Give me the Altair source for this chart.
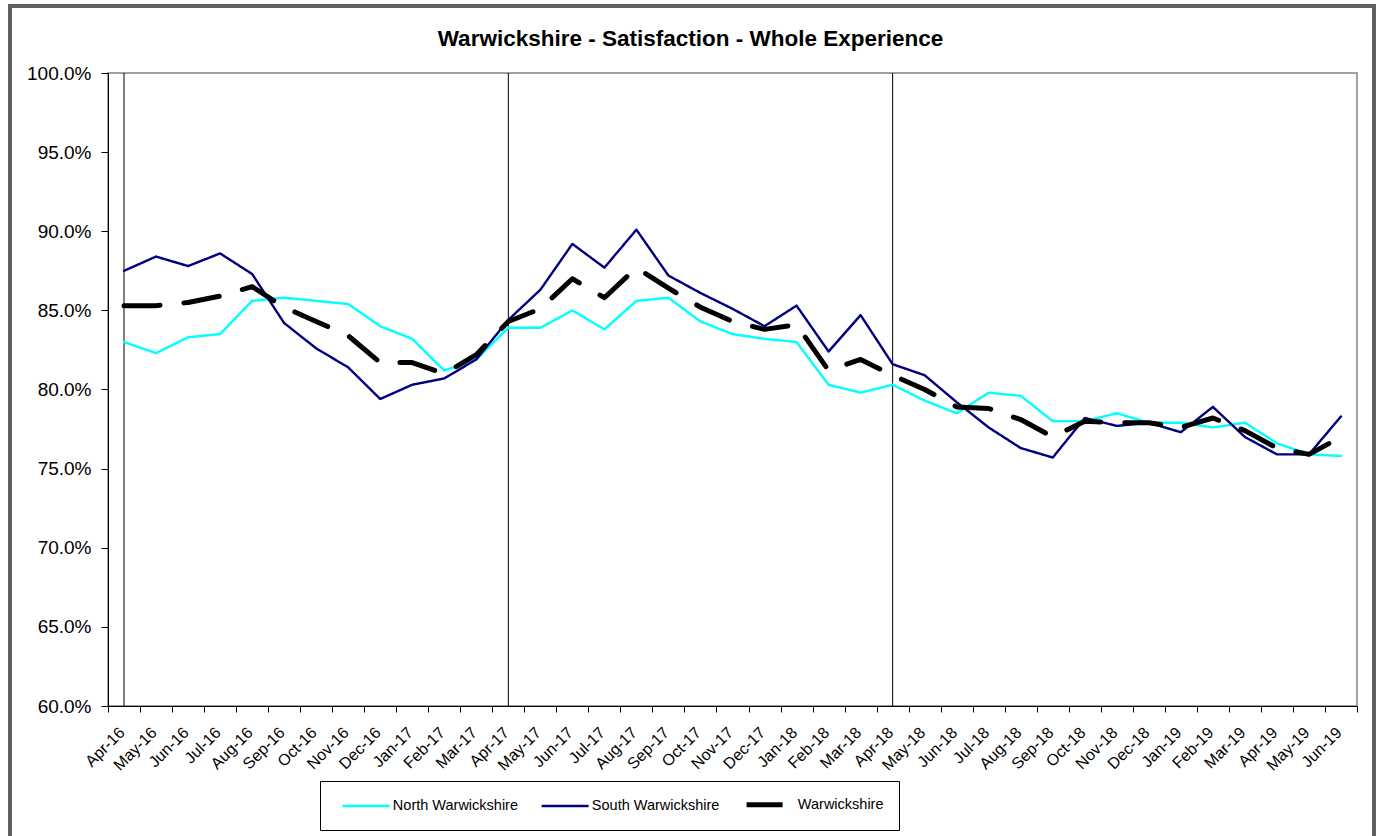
import altair as alt
import pandas as pd

# Monthly satisfaction with the whole experience (%), Apr-16 to Jun-19
months = [
    "Apr-16", "May-16", "Jun-16", "Jul-16", "Aug-16", "Sep-16", "Oct-16", "Nov-16",
    "Dec-16", "Jan-17", "Feb-17", "Mar-17", "Apr-17", "May-17", "Jun-17", "Jul-17",
    "Aug-17", "Sep-17", "Oct-17", "Nov-17", "Dec-17", "Jan-18", "Feb-18", "Mar-18",
    "Apr-18", "May-18", "Jun-18", "Jul-18", "Aug-18", "Sep-18", "Oct-18", "Nov-18",
    "Dec-18", "Jan-19", "Feb-19", "Mar-19", "Apr-19", "May-19", "Jun-19",
]

north = [
    83.0, 82.3, 83.3, 83.5, 85.6, 85.8, 85.6, 85.4, 84.0, 83.2, 81.2, 81.9, 83.9,
    83.9, 85.0, 83.8, 85.6, 85.8, 84.3, 83.5, 83.2, 83.0, 80.3, 79.8, 80.3,
    79.3, 78.5, 79.8, 79.6, 78.0, 78.0, 78.5, 77.9, 77.9, 77.6, 77.9, 76.6, 75.9, 75.8,
]

south = [
    87.5, 88.4, 87.8, 88.6, 87.3, 84.2, 82.6, 81.4, 79.4, 80.3, 80.7, 81.9, 84.4,
    86.3, 89.2, 87.7, 90.1, 87.2, 86.1, 85.1, 84.0, 85.3, 82.4, 84.7, 81.6,
    80.9, 79.2, 77.6, 76.3, 75.7, 78.2, 77.7, 77.9, 77.3, 78.9, 77.0, 75.9, 75.9, 78.3,
]

county = [
    85.3, 85.3, 85.5, 85.9, 86.5, 85.2, 84.3, 83.4, 81.7, 81.7, 81.0, 82.2, 84.3,
    85.1, 87.0, 85.8, 87.7, 86.4, 85.2, 84.3, 83.8, 84.1, 81.2, 81.9, 80.9,
    80.0, 78.9, 78.8, 78.1, 77.0, 78.0, 77.9, 77.9, 77.6, 78.2, 77.4, 76.3, 75.9, 77.0,
]

series_names = ["North Warwickshire", "South Warwickshire", "Warwickshire"]
series_colors = ["#00FFFF", "#000080", "#000000"]
series_widths = [2.4, 2.4, 5]
series_dashes = [[1, 0], [1, 0], [36, 24]]

# first month of each financial year gets a marker line
year_starts = ["Apr-16", "Apr-17", "Apr-18"]

y_ticks = [0.60, 0.65, 0.70, 0.75, 0.80, 0.85, 0.90, 0.95, 1.00]

W, H = 1249, 633
FONT = "Liberation Sans"

rows = []
for name, vals in zip(series_names, [north, south, county]):
    for i, (m, v) in enumerate(zip(months, vals)):
        rows.append({"month": m, "idx": i, "series": name, "value": v / 100})
df = pd.DataFrame(rows)

starts_df = pd.DataFrame({"idx": [months.index(m) for m in year_starts]})

n = len(months)
band = W / n

x_scale = alt.Scale(domain=[-0.5, n - 0.5], nice=False, zero=False)
y_scale = alt.Scale(domain=[0.6, 1.0], nice=False, zero=False)

month_js = "[" + ",".join(f"'{m}'" for m in months) + "]"

# ticks sit on category boundaries, labels are shifted to the category centres
x_axis = alt.Axis(
    values=[i - 0.5 for i in range(n + 1)],
    labelExpr=f"{month_js}[round(datum.value + 0.5)] || ''",
    labelOffset=band / 2 - 8,
    labelAngle=-45,
    labelOverlap=False,
    labelFlush=False,
    labelBound=False,
    grid=False,
    tickSize=6,
    labelPadding=12,
    labelFontSize=16,
    labelFont=FONT,
    labelColor="black",
    domainColor="black",
    tickColor="black",
    title=None,
)

y_axis = alt.Axis(
    values=y_ticks,
    format=".1%",
    grid=False,
    tickSize=7,
    labelPadding=10,
    labelFontSize=19,
    labelFont=FONT,
    labelColor="black",
    domainColor="black",
    tickColor="black",
    title=None,
)

# long horizontal line symbol: 8 units wide in the unit square's coordinates
sym_unit = 47 / 8
legend = alt.Legend(
    title=None,
    orient="none",
    legendX=212,
    legendY=708,
    direction="horizontal",
    symbolType="M-4,0L4,0",
    symbolSize=(2 * sym_unit) ** 2,
    symbolOffset=23.6,
    labelOffset=19.25,
    labelFontSize=14.5,
    labelFont=FONT,
    labelColor="black",
    columnPadding=16,
    padding=15,
    strokeColor="black",
    fillColor="white",
)

x_enc = alt.X("idx:Q", scale=x_scale, axis=x_axis)

lines = alt.Chart(df).mark_line(strokeCap="round", strokeJoin="round").encode(
    x=x_enc,
    y=alt.Y("value:Q", scale=y_scale, axis=y_axis),
    color=alt.Color(
        "series:N",
        scale=alt.Scale(domain=series_names, range=series_colors),
        legend=legend,
    ),
    strokeWidth=alt.StrokeWidth(
        "series:N",
        scale=alt.Scale(type="ordinal", domain=series_names, range=series_widths),
    ),
    strokeDash=alt.StrokeDash(
        "series:N", scale=alt.Scale(domain=series_names, range=series_dashes)
    ),
)

year_lines = alt.Chart(starts_df).mark_rule(color="black", strokeWidth=1).encode(
    x=x_enc
)

# grey frame around the whole figure
frame = alt.Chart(pd.DataFrame({"k": [0]})).mark_rect(
    fillOpacity=0, stroke="#5f5f5f", strokeWidth=4
).encode(
    x=alt.value(10 - 108),
    x2=alt.value(1374 - 108),
    y=alt.value(6 - 73),
    y2=alt.value(836 - 73 + 20),
)

chart = (
    alt.layer(frame, year_lines, lines)
    .properties(
        width=W,
        height=H,
        title=alt.TitleParams(
            "Warwickshire - Satisfaction - Whole Experience",
            font=FONT,
            fontSize=22.5,
            fontWeight="bold",
            color="black",
            anchor="middle",
            dx=-42,
            # the frame rectangle extends the view bounds upward, so pull the title back down
            offset=-64,
            baseline="alphabetic",
        ),
        autosize=alt.AutoSizeParams(type="none"),
        padding={"left": 108, "top": 73, "right": 25, "bottom": 130},
        background="white",
    )
    .configure(font=FONT)
    .configure_view(stroke="#a0a0a0", strokeWidth=2)
)

chart.save("out.html", embed_options={"renderer": "svg", "actions": False})
